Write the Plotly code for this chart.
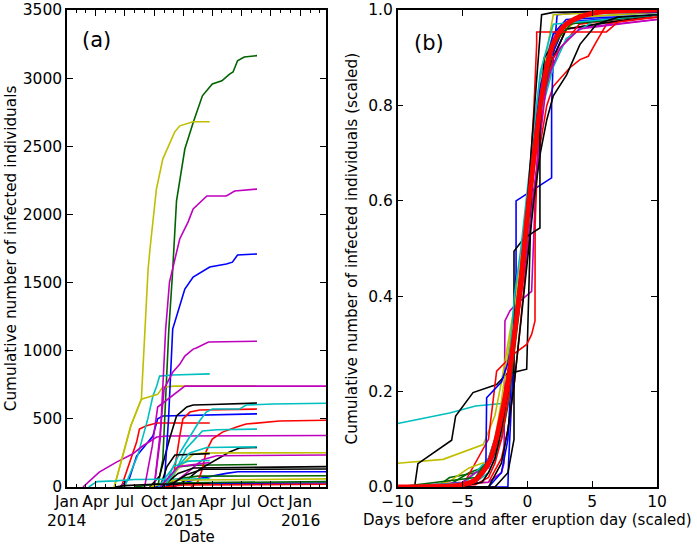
import plotly.graph_objects as go

# Paleta "classic" do matplotlib
B, G, R, C, M, Y, K = '#0000ff', '#006400', '#ff0000', '#00bfbf', '#bf00bf', '#bfbf00', '#000000'

# ===== Painel (a): casos acumulados por data =====
a01_x = ['2014-05-29', '2014-07-05', '2014-07-20', '2014-08-22', '2014-09-02', '2014-09-12', '2014-09-19',
         '2014-10-08', '2014-10-28', '2014-12-04', '2014-12-20', '2015-01-31', '2015-03-24']
a01_y = [0, 315, 450, 645, 1100, 1600, 1770, 2186, 2406, 2604, 2650, 2680, 2680]
a02_x = ['2014-10-12', '2014-10-28', '2014-11-16', '2014-11-27', '2014-12-10', '2015-01-05', '2015-02-01',
         '2015-03-01', '2015-04-01', '2015-05-01', '2015-05-25', '2015-06-05', '2015-06-19', '2015-07-10', '2015-08-19']
a02_y = [0, 200, 1159, 1550, 2100, 2480, 2680, 2870, 2957, 2980, 3030, 3045, 3128, 3155, 3165]
a03_x = ['2014-10-01', '2014-10-20', '2014-11-06', '2014-11-18', '2014-12-20', '2015-01-15', '2015-01-31',
         '2015-03-15', '2015-05-15', '2015-06-10', '2015-08-19']
a03_y = [0, 350, 1159, 1504, 1820, 1944, 2040, 2135, 2135, 2172, 2186]
a04_x = ['2014-11-01', '2014-11-15', '2014-11-28', '2014-12-20', '2015-01-05', '2015-01-31', '2015-03-24',
         '2015-05-15', '2015-06-03', '2015-06-19', '2015-08-19']
a04_y = [0, 500, 1159, 1330, 1453, 1541, 1614, 1636, 1650, 1702, 1710]
a05_x = ['2014-10-01', '2014-10-20', '2014-11-01', '2014-11-28', '2014-12-20', '2015-01-05', '2015-01-31',
         '2015-02-10', '2015-03-20', '2015-08-19']
a05_y = [0, 400, 719, 843, 900, 961, 1012, 1020, 1064, 1070]
a06_x = ['2014-06-30', '2014-08-10', '2014-09-11', '2014-09-27', '2014-10-09', '2014-10-18', '2014-11-28', '2015-03-24']
a06_y = [0, 227, 500, 668, 741, 814, 822, 830]
a07_x = ['2014-09-01', '2014-09-25', '2014-10-12', '2014-12-04', '2015-01-05', '2016-03-22']
a07_y = [0, 300, 587, 682, 740, 740]
a08_x = ['2014-05-29', '2014-07-05', '2014-07-20', '2014-08-22', '2014-10-12', '2014-10-28', '2014-12-04', '2015-08-17']
a08_y = [0, 315, 450, 645, 680, 733, 740, 740]
a09_x = ['2014-09-17', '2014-10-18', '2014-11-18', '2014-12-10', '2015-01-11', '2015-01-31', '2015-04-01', '2015-08-19']
a09_y = [0, 80, 352, 521, 587, 602, 605, 616]
a10_x = ['2014-11-03', '2014-11-20', '2014-12-20', '2015-01-31', '2015-02-20', '2015-03-13', '2015-04-01',
         '2015-06-25', '2015-07-16', '2015-10-07', '2016-03-22']
a10_y = [0, 100, 250, 411, 484, 550, 572, 572, 602, 609, 615]
a11_x = ['2014-11-13', '2014-11-28', '2014-12-20', '2014-12-30', '2015-01-21', '2015-02-21', '2015-08-19']
a11_y = [0, 40, 374, 500, 550, 565, 572]
a12_x = ['2014-06-15', '2014-07-15', '2014-08-07', '2014-09-27', '2014-10-12', '2014-10-28', '2015-08-19']
a12_y = [0, 60, 227, 374, 500, 521, 537]
a13_x = ['2014-06-20', '2014-08-07', '2014-08-16', '2014-09-07', '2014-10-09', '2015-03-24']
a13_y = [0, 330, 425, 450, 470, 470]
a14_x = ['2015-01-25', '2015-02-15', '2015-03-01', '2015-03-13', '2015-04-01', '2015-05-03', '2015-06-16',
         '2015-07-16', '2015-10-28', '2016-03-22']
a14_y = [0, 40, 132, 264, 352, 403, 440, 462, 484, 490]
a15_x = ['2014-11-15', '2014-12-05', '2015-01-08', '2015-01-31', '2015-03-01', '2015-04-15', '2015-08-19']
a15_y = [0, 100, 280, 337, 411, 420, 425]
a16_x = ['2014-02-20', '2014-04-12', '2014-06-05', '2014-07-25', '2014-08-26', '2014-10-09', '2014-11-09', '2016-03-22']
a16_y = [0, 110, 183, 242, 301, 367, 374, 378]
a17_x = ['2014-11-01', '2014-12-15', '2015-01-20', '2015-03-15', '2015-08-19']
a17_y = [0, 150, 250, 290, 295]
a18_x = ['2014-12-01', '2015-01-15', '2015-02-20', '2015-04-01', '2015-05-25', '2015-06-25', '2015-08-19']
a18_y = [0, 60, 130, 183, 257, 286, 290]
a19_x = ['2014-10-20', '2014-11-10', '2014-12-05', '2015-03-24']
a19_y = [0, 150, 235, 245]
a20_x = ['2014-11-01', '2014-12-20', '2015-01-31', '2015-03-01', '2016-03-22']
a20_y = [0, 150, 240, 250, 252]
a21_x = ['2014-11-15', '2015-01-20', '2015-03-01', '2015-04-15', '2016-03-22']
a21_y = [0, 120, 200, 230, 235]
a22_x = ['2014-10-20', '2014-11-20', '2014-12-20', '2015-02-01', '2015-08-19']
a22_y = [0, 80, 150, 160, 165]
a23_x = ['2014-10-25', '2014-12-15', '2015-02-01', '2016-03-22']
a23_y = [0, 100, 140, 150]
a24_x = ['2014-11-10', '2015-01-10', '2015-03-01', '2016-03-22']
a24_y = [0, 90, 130, 132]
a25_x = ['2014-11-20', '2015-02-15', '2015-05-15', '2015-06-20', '2016-03-22']
a25_y = [0, 60, 100, 112, 112]
a26_x = ['2014-10-01', '2014-12-15', '2015-02-15', '2016-03-22']
a26_y = [0, 60, 80, 83]
a27_x = ['2014-09-20', '2014-12-01', '2016-03-22']
a27_y = [0, 50, 60]
a28_x = ['2014-03-10', '2014-04-05', '2014-06-01', '2014-08-01', '2015-03-24']
a28_y = [0, 40, 45, 55, 60]
a29_x = ['2014-10-15', '2014-12-01', '2015-01-15', '2015-03-24']
a29_y = [0, 150, 190, 195]
a30_x = ['2014-10-20', '2014-12-15', '2015-03-24']
a30_y = [0, 150, 180]
a31_x = ['2014-08-01', '2014-11-01', '2016-03-22']
a31_y = [0, 30, 40]
a32_x = ['2014-10-01', '2015-01-01', '2016-03-22']
a32_y = [0, 25, 30]
a33_x = ['2014-06-01', '2014-07-01', '2014-10-01', '2015-03-24']
a33_y = [0, 10, 20, 25]
a34_x = ['2014-11-01', '2015-01-01', '2016-03-22']
a34_y = [0, 15, 20]

series_a = [
    (a12_x, a12_y, B), (a02_x, a02_y, G), (a13_x, a13_y, R), (a06_x, a06_y, C), (a16_x, a16_y, M),
    (a08_x, a08_y, Y), (a09_x, a09_y, K), (a04_x, a04_y, B), (a22_x, a22_y, G), (a11_x, a11_y, R),
    (a10_x, a10_y, C), (a03_x, a03_y, M), (a01_x, a01_y, Y), (a18_x, a18_y, K), (a25_x, a25_y, B),
    (a26_x, a26_y, G), (a14_x, a14_y, R), (a15_x, a15_y, C), (a05_x, a05_y, M), (a20_x, a20_y, Y),
    (a19_x, a19_y, K), (a32_x, a32_y, B), (a31_x, a31_y, G), (a28_x, a28_y, C), (a21_x, a21_y, M),
    (a27_x, a27_y, Y), (a23_x, a23_y, K), (a17_x, a17_y, C), (a07_x, a07_y, M), (a29_x, a29_y, C),
    (a30_x, a30_y, M), (a24_x, a24_y, K), (a33_x, a33_y, K), (a34_x, a34_y, R),
]

# ===== Painel (b): curvas escalonadas em torno do dia de erupção =====
b01_x = [-10, -6, -4, -2, -1.5, -1, -0.5, 0, 0.5, 1, 2, 4, 10]
b01_y = [0.133, 0.155, 0.17, 0.175, 0.22, 0.33, 0.45, 0.6, 0.75, 0.86, 0.95, 0.985, 0.995]
b02_x = [-8.7, -8.44, -5.84, -5.53, -4.19, -2.37, -1.6, -0.05, 0.15, 0.3, 0.6, 1.5, 3, 10]
b02_y = [0.0, 0.049, 0.098, 0.149, 0.198, 0.215, 0.237, 0.247, 0.45, 0.6, 0.75, 0.87, 0.96, 0.99]
b03_x = [-10, -6.5, -3.4, -2.5, -2, -1.5, -1, -0.5, 0, 0.5, 1, 2, 4, 10]
b03_y = [0.05, 0.058, 0.089, 0.15, 0.22, 0.3, 0.38, 0.48, 0.6, 0.72, 0.82, 0.93, 0.985, 0.995]
b04_x = [-10, -7, -6, -4.5, -3.5, -3, -2.5, -2, -1.5, -1, 0, 0.5, 1, 2, 10]
b04_y = [0.0, 0.005, 0.012, 0.04, 0.05, 0.052, 0.1, 0.18, 0.28, 0.37, 0.58, 0.72, 0.84, 0.99, 1.0]
b05_x = [-10, -3, -2, -1.5, -1.2, -0.87, -0.87, -0.7, 1.87, 1.87, 2.0, 2.3, 4, 10]
b05_y = [0, 0.0, 0.03, 0.1, 0.25, 0.45, 0.6, 0.603, 0.648, 0.8, 0.9, 0.99, 0.995, 0.995]
b06_x = [-10, -1.5, -1.45, -1.1, -1.0, -0.5, 0, 0.5, 1, 1.5, 3, 10]
b06_y = [0, 0.0, 0.05, 0.25, 0.3, 0.42, 0.55, 0.68, 0.78, 0.88, 0.975, 0.99]
b07_x = [-10, -4, -3, -2.5, -2, -1.5, -1, -0.5, 0, 0.3, 0.5, 0.72, 0.72, 6.1, 7, 10]
b07_y = [0, 0.005, 0.02, 0.05, 0.1, 0.18, 0.3, 0.42, 0.55, 0.7, 0.79, 0.93, 0.954, 0.954, 0.975, 0.985]
b08_x = [-10, -3, -2, -1.5, -1, -0.5, 0, 0.5, 1, 1.5, 2.0, 2.77, 3.28, 4.06, 4.7, 5.34, 6.11, 7.14, 8.9, 10]
b08_y = [0, 0.01, 0.06, 0.12, 0.22, 0.35, 0.5, 0.62, 0.72, 0.8, 0.84, 0.864, 0.879, 0.896, 0.903, 0.934,
         0.97, 0.976, 0.983, 0.985]
b09_x = [-10, -5, -3, -2.37, -1.09, -0.05, 0.33, 0.59, 0.6, 0.8, 1.2, 2, 4, 10]
b09_y = [0, 0.002, 0.1, 0.243, 0.278, 0.299, 0.32, 0.348, 0.55, 0.7, 0.8, 0.9, 0.97, 0.99]
b10_x = [-10, -3, -2, -1.8, -1.73, -1.35, -1.0, 0.33, 0.6, 1, 2, 3, 6.6, 10]
b10_y = [0, 0.01, 0.03, 0.05, 0.348, 0.369, 0.38, 0.41, 0.6, 0.8, 0.9, 0.96, 0.97, 0.98]
b11_x = [-10, -2.5, -1.5, -1.03, -1.03, -0.31, 0.5, 0.97, 0.97, 1.3, 3, 10]
b11_y = [0, 0.0, 0.03, 0.1, 0.494, 0.52, 0.535, 0.543, 0.75, 0.9, 0.97, 0.99]
b12_x = [-10, -5, -3.5, -3, -2.5, -2, -1.5, -1, -0.5, 0, 0.4, 1.1, 2, 10]
b12_y = [0, 0.002, 0.01, 0.03, 0.06, 0.12, 0.2, 0.3, 0.42, 0.6, 0.75, 0.99, 0.995, 1.0]
b13_x = [-10, -3, -2, -1.5, -1, -0.5, 0, 0.5, 1, 1.5, 2, 3.03, 4.06, 5.34, 7, 10]
b13_y = [0, 0.0, 0.05, 0.12, 0.22, 0.35, 0.48, 0.6, 0.7, 0.77, 0.82, 0.864, 0.928, 0.97, 0.985, 0.99]
b14_x = [-10, -6, -4.5, -3.5, -3, -2.5, -2, -1.5, -1, -0.5, 0, 0.5, 1, 1.5, 2, 3, 10]
b14_y = [0, 0.005, 0.03, 0.04, 0.06, 0.1, 0.16, 0.24, 0.34, 0.45, 0.57, 0.68, 0.77, 0.84, 0.9, 0.96, 0.99]
b15_x = [-10, -7, -6, -4, -3, -2.5, -2, -1.5, -1, 0, 1, 2, 4, 10]
b15_y = [0, 0.0, 0.02, 0.03, 0.05, 0.08, 0.14, 0.22, 0.33, 0.58, 0.8, 0.93, 0.99, 1.0]
b16_x = [-10, -5, -4, -3, -2, -1.5, -1, -0.5, 0, 0.5, 1, 2, 3, 5, 10]
b16_y = [0, 0.005, 0.03, 0.06, 0.14, 0.22, 0.32, 0.44, 0.56, 0.68, 0.78, 0.88, 0.94, 0.975, 0.99]
b17_x = [-10, -4, -3.2, -3.14, -2, -1.5, -1, -0.5, 0, 0.5, 1, 2, 3, 10]
b17_y = [0, 0.01, 0.04, 0.187, 0.22, 0.26, 0.34, 0.46, 0.6, 0.73, 0.84, 0.95, 0.98, 0.99]
b18_x = [-10, -5, -4, -3, -2.5, -2, -1.5, -1, -0.5, 0, 0.5, 1, 1.5, 2.5, 4, 10]
b18_y = [0, 0.01, 0.03, 0.04, 0.07, 0.12, 0.2, 0.3, 0.4, 0.5, 0.62, 0.74, 0.85, 0.92, 0.96, 0.98]
b19_x = [-10, -4, -3.5, -3, -2.5, -2, -1.5, -1, -0.5, 0, 0.5, 1, 2, 3, 10]
b19_y = [0, 0.02, 0.04, 0.05, 0.07, 0.1, 0.17, 0.28, 0.4, 0.53, 0.66, 0.79, 0.92, 0.97, 0.99]
b20_x = [-10, -4, -3, -2.5, -2, -1.5, -1.2, -1, -0.5, 0, 0.5, 1, 2, 10]
b20_y = [0, 0.01, 0.03, 0.06, 0.12, 0.23, 0.33, 0.4, 0.5, 0.62, 0.75, 0.87, 0.97, 0.99]

series_b = [
    (b06_x, b06_y, B), (b14_x, b14_y, G), (b08_x, b08_y, R), (b01_x, b01_y, C), (b10_x, b10_y, M),
    (b03_x, b03_y, Y), (b02_x, b02_y, K), (b05_x, b05_y, B), (b15_x, b15_y, G), (b09_x, b09_y, R),
    (b16_x, b16_y, C), (b18_x, b18_y, M), (b04_x, b04_y, Y), (b11_x, b11_y, K), (b17_x, b17_y, B),
    (b19_x, b19_y, G), (b07_x, b07_y, R), (b20_x, b20_y, C), (b12_x, b12_y, K), (b13_x, b13_y, K),
]

# Curva ajustada (vermelho grosso)
fit_x = [-10, -6, -5, -4, -3, -2.5, -2, -1.5, -1, -0.5, 0, 0.5, 1, 1.5, 2, 2.5, 3, 4, 5, 6, 8, 10]
fit_y = [0.0, 0.002, 0.005, 0.015, 0.05, 0.09, 0.15, 0.22, 0.32, 0.43, 0.57, 0.69, 0.8, 0.88, 0.93,
         0.955, 0.97, 0.985, 0.993, 0.997, 0.999, 1.0]

tick_dates = ['2014-01-01', '2014-04-01', '2014-07-01', '2014-10-01', '2015-01-01', '2015-04-01',
              '2015-07-01', '2015-10-01', '2016-01-01']
tick_text = ['Jan', 'Apr', 'Jul', 'Oct', 'Jan', 'Apr', 'Jul', 'Oct', 'Jan']
year_dates = ['2014-01-01', '2015-01-01', '2016-01-01']
year_text = ['2014', '2015', '2016']

fig = go.Figure()
for xs, ys, cor in series_a:
    fig.add_trace(go.Scatter(x=xs, y=ys, mode='lines', line=dict(color=cor, width=1.6),
                             xaxis='x', yaxis='y', showlegend=False))
for xs, ys, cor in series_b:
    fig.add_trace(go.Scatter(x=xs, y=ys, mode='lines', line=dict(color=cor, width=1.6),
                             xaxis='x2', yaxis='y2', showlegend=False))
fig.add_trace(go.Scatter(x=fit_x, y=fit_y, mode='lines', line=dict(color=R, width=5, shape='spline'),
                         xaxis='x2', yaxis='y2', showlegend=False))

eixo = dict(showline=True, linecolor='black', linewidth=1.5, mirror='ticks', ticks='inside',
            ticklen=6, tickwidth=1, tickcolor='black', showgrid=False, zeroline=False,
            tickfont=dict(size=15.5, color='black'), automargin=False, tickangle=0)

anotacoes = [
    dict(text='(a)', x=0.115, y=0.927, xref='paper', yref='paper', xanchor='left', yanchor='middle',
         showarrow=False, font=dict(size=21)),
    dict(text='(b)', x=0.5906, y=0.921, xref='paper', yref='paper', xanchor='left', yanchor='middle',
         showarrow=False, font=dict(size=21)),
    dict(text='Date', x=0.282, y=0.016, xref='paper', yref='paper', xanchor='center', yanchor='middle',
         showarrow=False, font=dict(size=15)),
    dict(text='Days before and after eruption day (scaled)', x=0.757, y=0.048, xref='paper', yref='paper',
         xanchor='center', yanchor='middle', showarrow=False, font=dict(size=15)),
    dict(text='Cumulative number of infected individuals', x=0.017, y=0.545, xref='paper', yref='paper',
         xanchor='center', yanchor='middle', textangle=-90, showarrow=False, font=dict(size=15.3)),
    dict(text='Cumulative number of infected individuals (scaled)', x=0.505, y=0.545, xref='paper',
         yref='paper', xanchor='center', yanchor='middle', textangle=-90, showarrow=False,
         font=dict(size=15.3)),
]
# Anos abaixo dos meses de janeiro
for d, t in zip(year_dates, year_text):
    anotacoes.append(dict(text=t, x=d, y=0.0458, xref='x', yref='paper', xanchor='center',
                          yanchor='middle', showarrow=False, font=dict(size=15.5)))

fig.update_layout(
    width=697, height=546,
    margin=dict(l=0, r=0, t=0, b=0),
    paper_bgcolor='white', plot_bgcolor='white',
    font=dict(family='DejaVu Sans', size=15, color='black'),
    xaxis=dict(eixo, domain=[0.0961, 0.4677], type='date', range=['2014-01-01', '2016-03-22'],
               tickmode='array', tickvals=tick_dates, ticktext=tick_text,
               minor=dict(ticks='inside', ticklen=3, dtick='M1', tick0='2014-01-01', tickcolor='black')),
    yaxis=dict(eixo, domain=[0.108, 0.9817], range=[0, 3500], dtick=500, anchor='x'),
    xaxis2=dict(eixo, domain=[0.5706, 0.9426], range=[-10, 10], dtick=5, anchor='y2'),
    yaxis2=dict(eixo, domain=[0.108, 0.9817], range=[0, 1.0], dtick=0.2, tickformat='.1f', anchor='x2'),
    annotations=anotacoes,
)

fig.write_html('out.html', config={'displayModeBar': False},
               post_script="document.body.style.margin='0';")
